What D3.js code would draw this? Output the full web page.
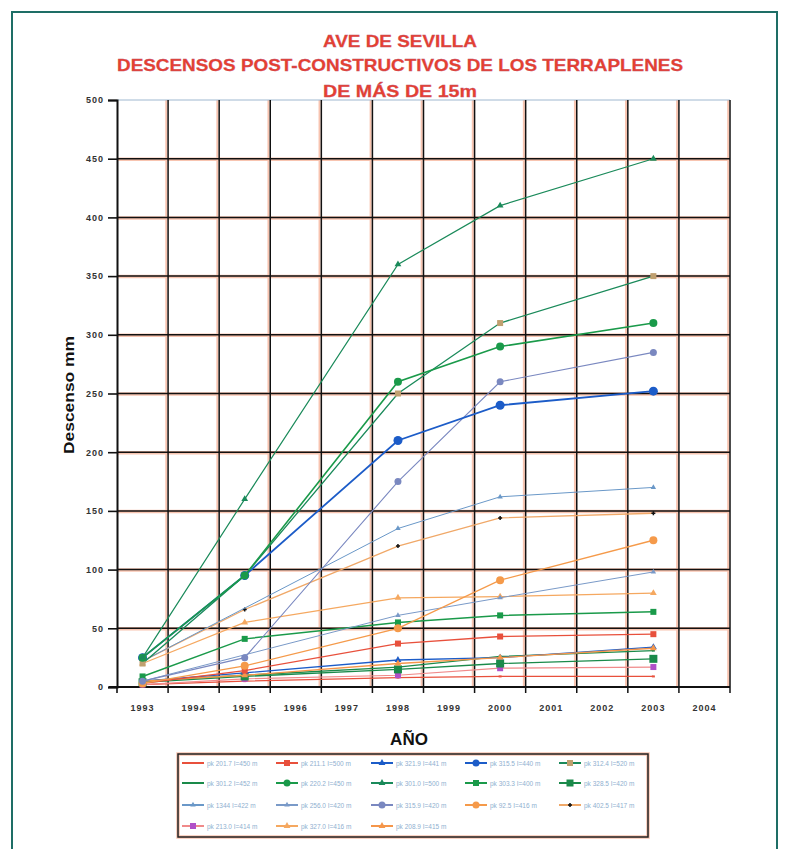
<!DOCTYPE html>
<html><head><meta charset="utf-8">
<script src="https://cdn.jsdelivr.net/npm/d3@7"></script>
<style>body{margin:0;background:#fff;} svg{display:block;font-family:"Liberation Sans",Arial,sans-serif;}</style>
</head><body><svg id="c" width="789" height="849"></svg>
<script>
// ---- data ----
const years = [1993,1994,1995,1996,1997,1998,1999,2000,2001,2002,2003,2004];
const yTicks = [0,50,100,150,200,250,300,350,400,450,500];
const sampleYears = [1993,1995,1998,2000,2003];
const seriesNames = [
  "pk 201.7 I=450 m","pk 211.1 I=500 m","pk 321.9 I=441 m","pk 315.5 I=440 m","pk 312.4 I=520 m",
  "pk 301.2 I=452 m","pk 220.2 I=450 m","pk 301.0 I=500 m","pk 303.3 I=400 m","pk 328.5 I=420 m",
  "pk 1344 I=422 m","pk 256.0 I=420 m","pk 315.9 I=420 m","pk 92.5 I=416 m","pk 402.5 I=417 m",
  "pk 213.0 I=414 m","pk 327.0 I=416 m","pk 208.9 I=415 m"
];
const v01 = [2, 5, 8, 9, 9];
const v02 = [3, 14, 37, 43, 45];
const v03 = [5, 12, 23, 25, 34];
const v04 = [25, 95, 210, 240, 252];
const v05 = [20, 95, 250, 310, 350];
const v06 = [5, 10, 17, 26, 31];
const v07 = [25, 95, 260, 290, 310];
const v08 = [25, 160, 360, 410, 450];
const v09 = [9, 41, 55, 61, 64];
const v10 = [4, 9, 15, 20, 24];
const v11 = [22, null, 135, 162, 170];
const v12 = [5, null, 61, 76, 98];
const v13 = [5, 25, 175, 260, 285];
const v14 = [3, 18, 50, 91, 125];
const v15 = [22, 66, 120, 144, 148];
const v16 = [2, 7, 10, 16, 17];
const v17 = [20, 55, 76, 77, 80];
const v18 = [5, 10, 20, 25, 33];
const seriesValues = [v01,v02,v03,v04,v05,v06,v07,v08,v09,v10,v11,v12,v13,v14,v15,v16,v17,v18];

// ---- styles ----
const styles = [
  {c:"#e8503c", m:"dash",  s:3, w:1.3},
  {c:"#e8503c", m:"square",s:6, w:1.3},
  {c:"#1c5cc8", m:"tri",   s:5, w:1.3},
  {c:"#1c5cc8", m:"circle",s:9, w:1.8},
  {c:"#1a8a5a", m:"square",s:6, w:1.3, mc:"#c0a070"},
  {c:"#1a8a4a", m:"dash",  s:3, w:1.3},
  {c:"#1a9a4a", m:"circle",s:8, w:1.6},
  {c:"#1a8a5a", m:"tri",   s:5, w:1.2},
  {c:"#1a9a4a", m:"square",s:6, w:1.5},
  {c:"#1a8a4a", m:"square",s:8, w:1.3},
  {c:"#6a98c8", m:"tri",   s:4, w:1.0},
  {c:"#7a9ac8", m:"tri",   s:4, w:1.0},
  {c:"#7a88c0", m:"circle",s:7, w:1.1},
  {c:"#f59a4a", m:"circle",s:8, w:1.3},
  {c:"#f0a868", m:"plus",  s:4, w:1.3, mc:"#111"},
  {c:"#f08a8a", m:"square",s:6, w:1.2, mc:"#b050c8"},
  {c:"#f5a860", m:"tri",   s:5, w:1.3},
  {c:"#f5964a", m:"tri",   s:5, w:1.3}
];

const svg = d3.select("#c");
const L = 117, R = 730, T = 100, B = 687;

// outer frame
svg.append("path").attr("d", `M12,849 V12 H777 V849`).attr("fill","none").attr("stroke","#1e6e66").attr("stroke-width",2);

// title
const titleLines = [
  {t:"AVE DE SEVILLA", y:47, len:154},
  {t:"DESCENSOS POST-CONSTRUCTIVOS DE LOS TERRAPLENES", y:71, len:566},
  {t:"DE MÁS DE 15m", y:97, len:154}
];
titleLines.forEach(d => {
  svg.append("text").attr("x",400).attr("y",d.y).attr("text-anchor","middle")
    .attr("font-size",17).attr("font-weight","bold").attr("fill","#e8402e")
    .attr("stroke","#c05070").attr("stroke-width",0.3)
    .attr("textLength",d.len).attr("lengthAdjust","spacingAndGlyphs").text(d.t);
});

const x = d3.scaleBand().domain(years).range([L,R]).padding(0);
const xc = yr => x(yr) + x.bandwidth()/2;
const y = d3.scaleLinear().domain([0,500]).range([B,T]);

// grid
const g = svg.append("g");
yTicks.filter(v => v>0 && v<500).forEach(v => {
  g.append("line").attr("x1",L).attr("x2",R).attr("y1",y(v)+0.5).attr("y2",y(v)+0.5)
    .attr("stroke","#f8c4b0").attr("stroke-width",3.5);
});
years.forEach((yr,i) => {
  const xx = x(yr) + x.bandwidth();
  g.append("line").attr("x1",xx-1.8).attr("x2",xx-1.8).attr("y1",T).attr("y2",B)
    .attr("stroke","#f8c4b0").attr("stroke-width",2);
});
yTicks.filter(v => v>0 && v<500).forEach(v => {
  g.append("line").attr("x1",L).attr("x2",R).attr("y1",y(v)).attr("y2",y(v))
    .attr("stroke","#111").attr("stroke-width",1.5);
});
g.append("line").attr("x1",L).attr("x2",R).attr("y1",T).attr("y2",T).attr("stroke","#9fb8d0").attr("stroke-width",1);
years.forEach(yr => {
  const xx = x(yr) + x.bandwidth();
  g.append("line").attr("x1",xx).attr("x2",xx).attr("y1",T).attr("y2",B+6)
    .attr("stroke","#111").attr("stroke-width",1.5);
});

// axes
const yAxis = d3.axisLeft(y).tickValues(yTicks).tickSize(9).tickPadding(4);
const ya = svg.append("g").attr("transform",`translate(${L},0)`).call(yAxis);
ya.select(".domain").attr("stroke","#111").attr("stroke-width",2);
ya.selectAll(".tick line").attr("stroke","#111").attr("stroke-width",1.6);
ya.selectAll(".tick text").attr("font-size",9).attr("font-weight","bold").attr("fill","#333")
  .attr("font-family","'Liberation Sans',Arial,sans-serif").attr("letter-spacing",1);

const xAxis = d3.axisBottom(x).tickSize(0).tickPadding(18);
const xa = svg.append("g").attr("transform",`translate(0,${B})`).call(xAxis);
xa.select(".domain").remove();
xa.selectAll(".tick text").attr("font-size",9).attr("font-weight","bold").attr("fill","#333")
  .attr("font-family","'Liberation Sans',Arial,sans-serif").attr("letter-spacing",1);
svg.append("line").attr("x1",L-8).attr("x2",R).attr("y1",B).attr("y2",B).attr("stroke","#111").attr("stroke-width",2);
svg.append("line").attr("x1",L).attr("x2",L).attr("y1",B).attr("y2",B+6).attr("stroke","#111").attr("stroke-width",1.6);

// axis titles
svg.append("text").attr("transform","translate(74,395) rotate(-90)").attr("text-anchor","middle")
  .attr("font-size",15).attr("font-weight","bold").attr("fill","#111")
  .attr("textLength",118).attr("lengthAdjust","spacingAndGlyphs").text("Descenso mm");
svg.append("text").attr("x",409).attr("y",745).attr("text-anchor","middle")
  .attr("font-size",17).attr("font-weight","bold").attr("fill","#111").text("AÑO");

// markers
function drawMarker(sel, type, cx, cy, s, col) {
  if (type === "circle") sel.append("circle").attr("cx",cx).attr("cy",cy).attr("r",s/2).attr("fill",col);
  else if (type === "square") sel.append("rect").attr("x",cx-s/2).attr("y",cy-s/2).attr("width",s).attr("height",s).attr("fill",col);
  else if (type === "tri") sel.append("path").attr("d",d3.symbol(d3.symbolTriangle, s*s*0.8)()).attr("transform",`translate(${cx},${cy})`).attr("fill",col);
  else if (type === "plus") sel.append("path").attr("d",`M${cx-s/2},${cy}H${cx+s/2}M${cx},${cy-s/2}V${cy+s/2}`).attr("stroke",col).attr("stroke-width",1.5);
  else if (type === "dash") sel.append("rect").attr("x",cx-s/2).attr("y",cy-1).attr("width",s).attr("height",2).attr("fill",col);
}

// series
const line = d3.line().x(d => xc(d.yr)).y(d => y(d.v));
const order = [0,15,5,9,2,17,1,8,16,11,13,14,10,12,3,4,6,7];
const sg = svg.append("g");
order.forEach(i => {
  const st = styles[i];
  const pts = sampleYears.map((yr,k) => ({yr, v: seriesValues[i][k]})).filter(d => d.v !== null);
  sg.append("path").attr("d", line(pts)).attr("fill","none").attr("stroke",st.c).attr("stroke-width",st.w);
  pts.forEach(d => drawMarker(sg, st.m, xc(d.yr), y(d.v), st.s, st.mc || st.c));
});

// legend
const lg = svg.append("g");
lg.append("rect").attr("x",178).attr("y",754).attr("width",470).attr("height",83)
  .attr("fill","#fff").attr("stroke","#f8c4b0").attr("stroke-width",3.5);
lg.append("rect").attr("x",178).attr("y",754).attr("width",470).attr("height",83)
  .attr("fill","none").attr("stroke","#222").attr("stroke-width",1.5);
const colX = [182, 276, 371, 465, 559];
const rowY = [763, 783, 805, 826];
seriesNames.forEach((name,i) => {
  const st = styles[i];
  const lx = colX[i%5], ly = rowY[Math.floor(i/5)];
  lg.append("line").attr("x1",lx).attr("x2",lx+22).attr("y1",ly).attr("y2",ly).attr("stroke",st.c).attr("stroke-width",2);
  drawMarker(lg, st.m, lx+11, ly, Math.min(st.s,7), st.mc || st.c);
  lg.append("text").attr("x",lx+25).attr("y",ly+2.5).attr("font-size",6.5).attr("fill","#8fb0d0").text(name);
});
</script></body></html>
